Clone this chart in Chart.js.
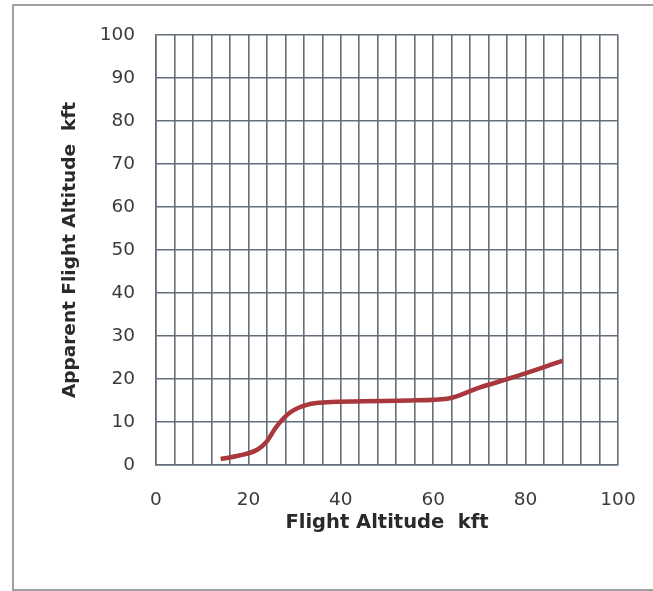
<!DOCTYPE html>
<html>
<head>
<meta charset="utf-8">
<script src="https://cdn.jsdelivr.net/npm/chart.js@4/dist/chart.umd.min.js"></script>
<style>
  html, body { margin: 0; padding: 0; background: #ffffff; overflow: hidden; }
  #wrap { position: absolute; left: 0; top: 0; width: 653px; height: 591px; }
  #frame { position: absolute; left: 12px; top: 4px; width: 700px; height: 587px; border: 2px solid #a0a0a0; box-sizing: border-box; }
  canvas { position: absolute; left: 0; top: 0; }
</style>
</head>
<body>
<div id="wrap">
  <div id="frame"></div>
  <canvas id="c" width="653" height="591"></canvas>
</div>
<script>
// Data
const flightAltitude   = [14, 18, 22, 24, 26, 29, 33, 37, 45, 55, 63, 70, 77, 88];
const apparentAltitude = [1.4, 2.2, 3.6, 5.5, 8.8, 12.2, 14.1, 14.6, 14.8, 15.0, 15.4, 18.0, 20.3, 24.2];
const xTickLabels = [0, 20, 40, 60, 80, 100];
const yTickLabels = [0, 10, 20, 30, 40, 50, 60, 70, 80, 90, 100];
const xTitle = 'Flight Altitude  kft';
const yTitle = 'Apparent Flight Altitude  kft';

const points = flightAltitude.map((x, i) => ({ x: x, y: apparentAltitude[i] }));
const gridColor = '#636e78';
const tickFont = { family: 'DejaVu Sans', size: 18.5 };

new Chart(document.getElementById('c'), {
  type: 'line',
  data: {
    datasets: [{
      data: points,
      borderColor: '#a8383c',
      borderWidth: 4.5,
      pointRadius: 0,
      cubicInterpolationMode: 'monotone',
      fill: false
    }]
  },
  options: {
    responsive: false,
    animation: false,
    devicePixelRatio: 1,
    layout: { padding: { left: 0, top: 35, right: 35, bottom: 0 } },
    plugins: { legend: { display: false }, tooltip: { enabled: false } },
    scales: {
      x: {
        type: 'linear',
        min: 0, max: 100,
        afterFit: s => { s.height = 126; s.paddingLeft = 0; s.paddingRight = 0; },
        ticks: {
          stepSize: 4,
          autoSkip: false,
          maxRotation: 0,
          padding: 24,
          color: '#3a3a3a',
          font: tickFont,
          callback: v => xTickLabels.includes(v) ? String(v) : ''
        },
        grid: { color: gridColor, lineWidth: 1.6, drawTicks: false },
        border: { display: true, color: gridColor, width: 1.6 },
        title: { display: true, text: xTitle, color: '#2a2a2a', font: { family: 'DejaVu Sans', size: 19.5, weight: 'bold' }, padding: { top: 0, bottom: 56 } }
      },
      y: {
        type: 'linear',
        min: 0, max: 100,
        afterFit: s => { s.width = 156; s.paddingTop = 0; s.paddingBottom = 0; },
        ticks: {
          stepSize: 10,
          autoSkip: false,
          padding: 21,
          color: '#3a3a3a',
          font: tickFont,
          callback: v => yTickLabels.includes(v) ? String(v) : ''
        },
        grid: { color: gridColor, lineWidth: 1.6, drawTicks: false },
        border: { display: true, color: gridColor, width: 1.6 },
        title: { display: true, text: yTitle, color: '#2a2a2a', font: { family: 'DejaVu Sans', size: 18.5, weight: 'bold' }, padding: { top: 59, bottom: 0 } }
      }
    }
  }
});
</script>
</body>
</html>
